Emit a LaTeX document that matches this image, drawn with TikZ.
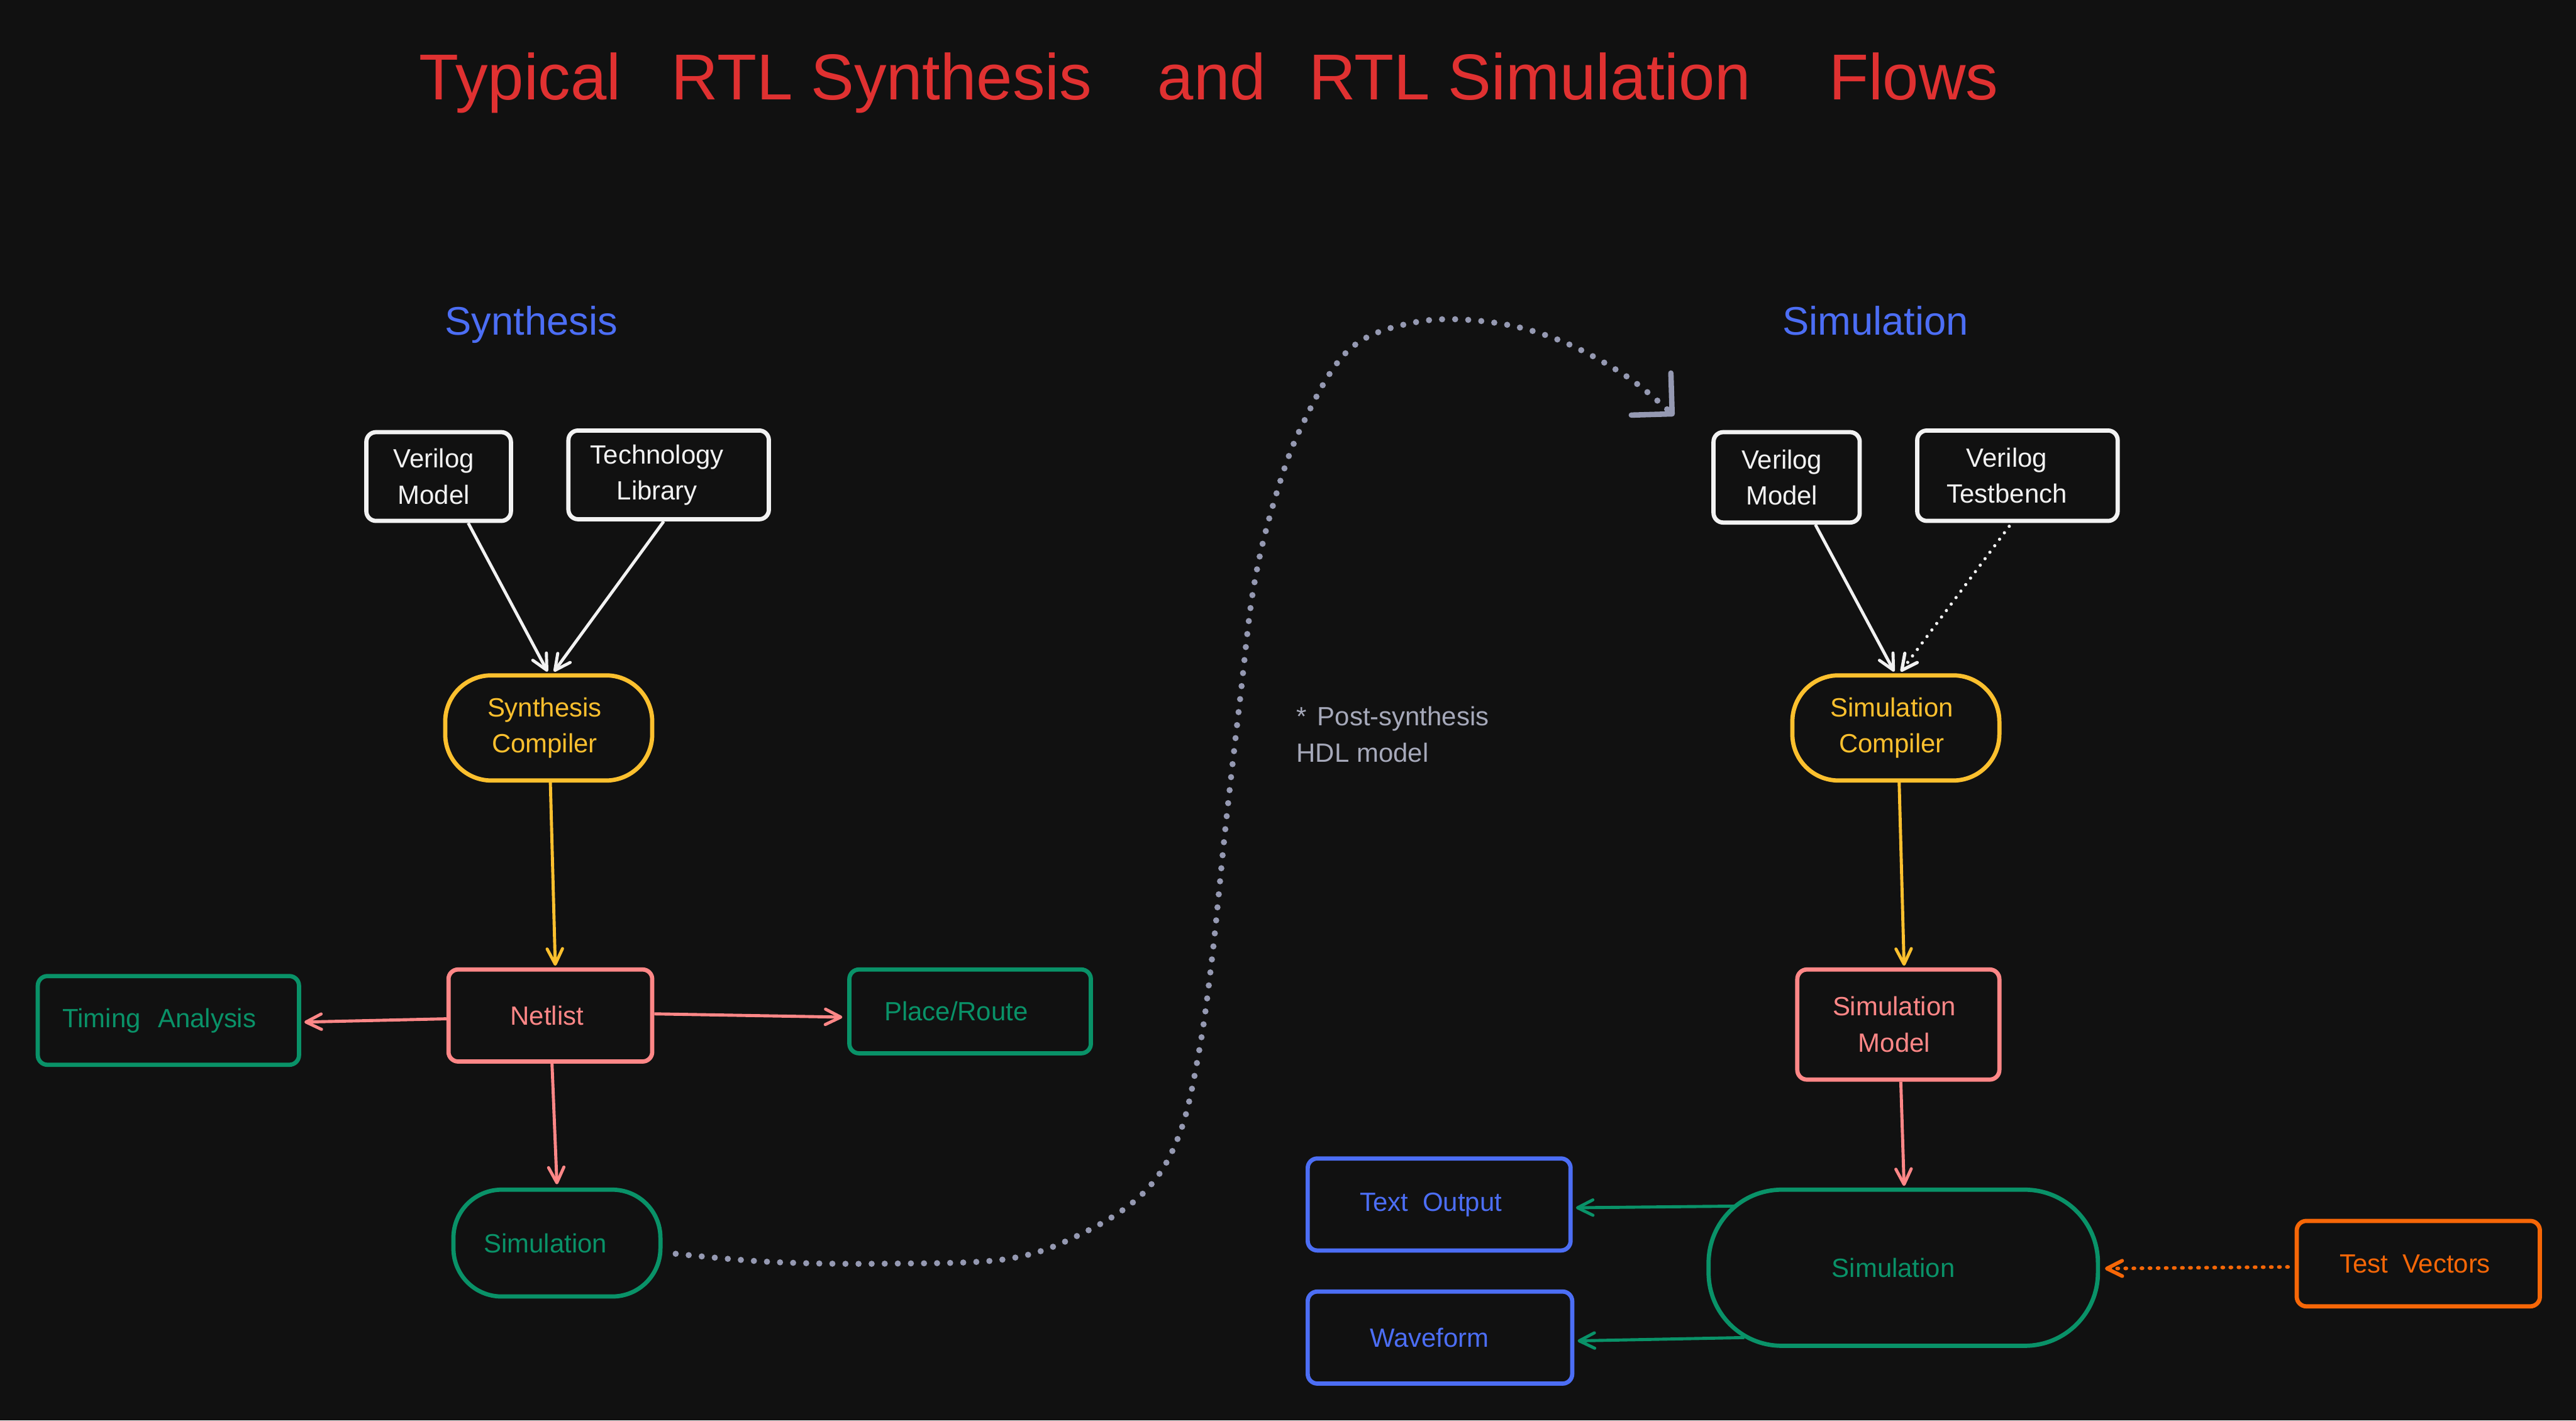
\documentclass[tikz,border=0pt]{standalone}
\usepackage{fontspec}
\setmainfont{Liberation Sans}
\usetikzlibrary{arrows.meta,calc}
\definecolor{bg}{HTML}{111111}
\definecolor{cwhite}{HTML}{F2F2F2}
\definecolor{cyellow}{HTML}{FCC02E}
\definecolor{cpink}{HTML}{FF8787}
\definecolor{cgreen}{HTML}{099268}
\definecolor{cblue}{HTML}{4C6EF5}
\definecolor{corange}{HTML}{F76707}
\definecolor{cred}{HTML}{E03131}
\definecolor{cgray}{HTML}{9599B2}
\definecolor{cgraytext}{HTML}{A6A9BA}
\newcommand\uu{0.03cm}
\tikzset{
  box/.style={draw, line width=2.2pt, rounded corners=5pt, inner sep=0pt, align=center,
    font=\fontsize{13.7}{18.8}\selectfont},
  pill/.style={box, rounded corners=24pt},
  arr/.style={line width=1.6pt, -{Straight Barb[length=8pt,width=8pt,round]}},
  titletext/.style={anchor=base west, inner sep=0pt, text=cred, font=\fontsize{33.7}{40}\selectfont},
  headtext/.style={anchor=base, inner sep=0pt, text=cblue, font=\fontsize{20.7}{25}\selectfont},
}
\begin{document}
\begin{tikzpicture}[x=0.03cm,y=-0.03cm]
\fill[bg] (0,0) rectangle (1568,864.5);
\useasboundingbox (0,0) rectangle (1568,864.5);

% title
\node[titletext] (t1) at (255,60.5) {Typical};
\node[titletext] (t2) at (408.5,60.5) {RTL Synthesis};
\node[titletext] (t3) at (704.5,60.5) {and};
\node[titletext] (t4) at (796.5,60.5) {RTL Simulation};
\node[titletext] (t5) at (1113,60.5) {Flows};

% headers
\node[headtext] (hsyn) at (323.5,204) {Synthesis};
\node[headtext] (hsim) at (1141.5,204) {Simulation};

% synthesis side
\node[box, draw=cwhite, text=cwhite, minimum width=88*\uu, minimum height=54*\uu] (vm1) at (267,290) {Verilog\kern5pt\\Model\kern5pt};
\node[box, draw=cwhite, text=cwhite, minimum width=122*\uu, minimum height=54*\uu] (tl) at (407,289) {Technology\kern12pt\\Library\kern12pt};
\node[pill, draw=cyellow, text=cyellow, minimum width=126*\uu, minimum height=64*\uu] (sc) at (334,443) {Synthesis\kern4.3pt\\Compiler\kern4.3pt};
\node[box, draw=cpink, text=cpink, minimum width=124*\uu, minimum height=56*\uu] (net) at (335,618) {Netlist\kern3.4pt};
\node[box, draw=cgreen, text=cgreen, minimum width=159*\uu, minimum height=54*\uu] (ta) at (102.5,621) {Timing\hspace{9pt}Analysis\kern9.4pt};
\node[box, draw=cgreen, text=cgreen, minimum width=147*\uu, minimum height=51*\uu] (pr) at (590.5,615.5) {Place/Route\kern14.5pt};
\node[pill, draw=cgreen, text=cgreen, rounded corners=25pt, minimum width=126*\uu, minimum height=65*\uu] (simL) at (339,756.5) {Simulation\kern12pt};

\draw[arr, cwhite] ($(vm1.south)+(18,0)$) -- ($(sc.north)+(-0.7,-1)$);
\draw[arr, cwhite] ($(tl.south)+(-3,0)$) -- ($(sc.north)+(3.2,-1)$);
\draw[arr, cyellow] ($(sc.south)+(1,0)$) -- ($(net.north)+(3,-1)$);
\draw[arr, cpink] ($(net.west)+(0,2)$) -- ($(ta.east)+(2,1)$);
\draw[arr, cpink] ($(net.east)+(0,-1)$) -- ($(pr.west)+(-3,3.5)$);
\draw[arr, cpink] ($(net.south)+(1,0)$) -- ($(simL.north)+(0,-2)$);

% post-synthesis curve
\coordinate (cs) at ($(simL.east)+(8,6.5)$);
\coordinate (ce) at (1019,253);
\draw[cgray, line width=3.2pt, line cap=round, dash pattern=on 0pt off 6.8pt,
  -{Straight Barb[length=15pt,width=30pt,round,line width=2.8pt]}]
  plot[smooth, tension=0.6] coordinates {(cs) (470,768) (540,769) (614,766) (660,750) (697,725) (718,690) (730,639) (738,581) (746,503) (755,424) (763,358) (775,307) (792,260) (821,213) (862,196) (907,196) (949,207) (990,229) (ce)};
\node[anchor=west, align=left, inner sep=0pt, text=cgraytext, font=\fontsize{13.7}{18.8}\selectfont] (note) at (789,447) {*\hspace{5.5pt}Post-synthesis\\HDL model};

% simulation side
\node[box, draw=cwhite, text=cwhite, minimum width=89*\uu, minimum height=55*\uu] (vm2) at (1087.5,290.5) {Verilog\kern5pt\\Model\kern5pt};
\node[box, draw=cwhite, text=cwhite, minimum width=122*\uu, minimum height=55*\uu] (vtb) at (1228,289.5) {Verilog\kern11pt\\Testbench\kern11pt};
\node[pill, draw=cyellow, text=cyellow, minimum width=126*\uu, minimum height=64*\uu] (simc) at (1154,443) {Simulation\kern4.3pt\\Compiler\kern4.3pt};
\node[box, draw=cpink, text=cpink, minimum width=123*\uu, minimum height=67*\uu] (simm) at (1155.5,623.5) {Simulation\kern4.3pt\\Model\kern4.3pt};
\node[box, draw=cgreen, text=cgreen, rounded corners=38pt, minimum width=237*\uu, minimum height=95*\uu] (simr) at (1158.5,771.5) {Simulation\kern10.2pt};
\node[box, draw=cblue, text=cblue, minimum width=160*\uu, minimum height=56*\uu] (to) at (876,733) {Text\hspace{7.5pt}Output\kern8.5pt};
\node[box, draw=cblue, text=cblue, minimum width=161*\uu, minimum height=56*\uu] (wf) at (876.5,814) {Waveform\kern11pt};
\node[box, draw=corange, text=corange, minimum width=148*\uu, minimum height=52*\uu] (tv) at (1472,769) {Test\hspace{7.5pt}Vectors\kern3.4pt};

\draw[arr, cwhite] ($(vm2.south)+(17.5,0)$) -- ($(simc.north)+(-1,-1)$);
\draw[cwhite, line width=1.7pt, line cap=round, dash pattern=on 0pt off 4.2pt,
  -{Straight Barb[length=8pt,width=8pt,round]}] ($(vtb.south)+(-5,2)$) -- ($(simc.north)+(3,-1)$);
\draw[arr, cyellow] ($(simc.south)+(2,0)$) -- ($(simm.north)+(3.5,-1)$);
\draw[arr, cpink] ($(simm.south)+(1.5,0)$) -- ($(simr.north)+(0.5,-1)$);
\draw[arr, cgreen] ($(simr.west)+(18,-37.5)$) -- ($(to.east)+(2,2)$);
\draw[arr, cgreen] ($(simr.west)+(23,42.5)$) -- ($(wf.east)+(2,2)$);
\draw[corange, line width=1.9pt, line cap=round, dash pattern=on 0.6pt off 3.6pt,
  -{Straight Barb[length=8pt,width=8pt,round]}] ($(tv.west)+(-4,2)$) -- ($(simr.east)+(3,0.5)$);
\end{tikzpicture}
\end{document}
